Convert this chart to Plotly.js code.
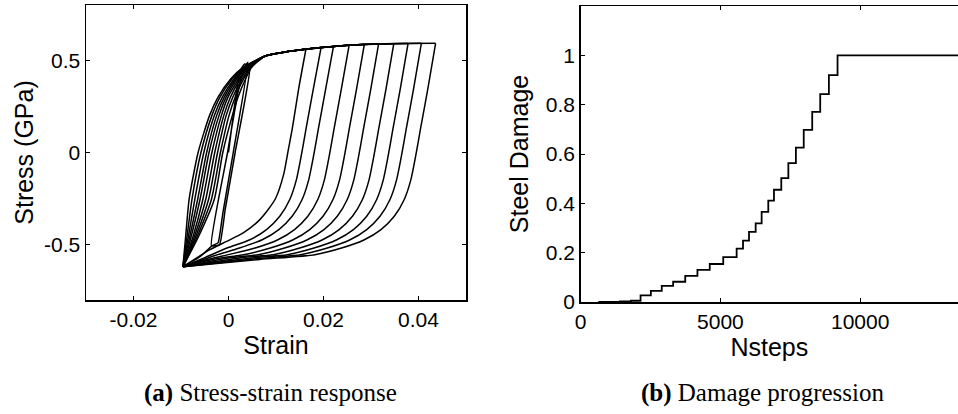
<!DOCTYPE html>
<html><head><meta charset="utf-8">
<script src="https://cdn.plot.ly/plotly-3.0.1.min.js"></script>
<style>html,body{margin:0;padding:0;background:#fff;overflow:hidden}#chart{width:958px;height:414px}</style>
</head><body><div id="chart"></div>
<script>
// ---------- Panel (a): stress-strain response ----------
const tipStrain = [0.0163, 0.0195, 0.0221, 0.0254, 0.0286, 0.0316, 0.0348, 0.0378, 0.0406, 0.0436];
const tipStress = [0.560, 0.570, 0.576, 0.582, 0.586, 0.589, 0.590, 0.591, 0.592, 0.592];

// shared upper (tensile) envelope
const envStrain = [0.0077, 0.0119, 0.0161, 0.0196, 0.0253, 0.0309, 0.0370, 0.0436];
const envStress = [0.523, 0.545, 0.560, 0.569, 0.582, 0.589, 0.591, 0.592];

// reloading branches (fan) from the compressive corner
const fanStress = [-0.62, -0.45, -0.255, 0.0, 0.2, 0.3, 0.4, 0.46];
const fanStrain0 = [-0.0096, -0.0090, -0.0083, -0.0064, -0.0040, -0.0022, 0.0005, 0.0030];
const fanStrain1 = [-0.0096, -0.0087, -0.0077, -0.0058, -0.0035, -0.0018, 0.0008, 0.0032];
const fanStrain2 = [-0.0096, -0.0084, -0.0071, -0.0052, -0.0030, -0.0013, 0.0012, 0.0034];
const fanStrain3 = [-0.0096, -0.0081, -0.0065, -0.0046, -0.0025, -0.0009, 0.0015, 0.0036];
const fanStrain4 = [-0.0096, -0.0078, -0.0060, -0.0041, -0.0020, -0.0005, 0.0018, 0.0038];
const fanStrain5 = [-0.0096, -0.0074, -0.0054, -0.0035, -0.0015, -0.0001, 0.0022, 0.0040];
const fanStrain6 = [-0.0096, -0.0071, -0.0048, -0.0029, -0.0010, 0.0004, 0.0025, 0.0042];
const fanStrain7 = [-0.0096, -0.0068, -0.0042, -0.0023, -0.0005, 0.0009, 0.0029, 0.0044];
const fanStrain8 = [-0.0096, -0.0065, -0.0036, -0.0017, 0.0001, 0.0014, 0.0032, 0.0046];
const fanStrain9 = [-0.0096, -0.0062, -0.0030, -0.0012, 0.0008, 0.0020, 0.0036, 0.0048];

// unloading branches from each tip back to the compressive corner
const unStrain0 = [0.0163, 0.0148, 0.0134, 0.0126, 0.0116, 0.0098, 0.0066, 0.0031, -0.0004, -0.0039, -0.0096];
const unStress0 = [0.560, 0.350, 0.125, 0.016, -0.120, -0.255, -0.364, -0.436, -0.482, -0.527, -0.620];
const unStrain1 = [0.0195, 0.0179, 0.0163, 0.0153, 0.0143, 0.0129, 0.0108, 0.0080, 0.0045, -0.0003, -0.0050, -0.0096];
const unStress1 = [0.570, 0.350, 0.125, -0.020, -0.147, -0.255, -0.346, -0.418, -0.473, -0.518, -0.570, -0.620];
const unStrain2 = [0.0221, 0.0205, 0.0189, 0.0179, 0.0169, 0.0155, 0.0134, 0.0106, 0.0071, 0.0023, -0.0030, -0.0096];
const unStress2 = [0.576, 0.350, 0.125, -0.020, -0.147, -0.255, -0.346, -0.418, -0.473, -0.518, -0.560, -0.620];
const unStrain3 = [0.0254, 0.0238, 0.0222, 0.0212, 0.0202, 0.0188, 0.0167, 0.0139, 0.0104, 0.0056, 0.0000, -0.0050, -0.0096];
const unStress3 = [0.582, 0.350, 0.125, -0.020, -0.147, -0.255, -0.346, -0.418, -0.473, -0.518, -0.554, -0.585, -0.620];
const unStrain4 = [0.0286, 0.0270, 0.0254, 0.0244, 0.0234, 0.0220, 0.0199, 0.0171, 0.0136, 0.0088, 0.0032, -0.0030, -0.0096];
const unStress4 = [0.586, 0.350, 0.125, -0.020, -0.147, -0.255, -0.346, -0.418, -0.473, -0.518, -0.554, -0.578, -0.620];
const unStrain5 = [0.0316, 0.0300, 0.0284, 0.0274, 0.0264, 0.0250, 0.0229, 0.0201, 0.0166, 0.0118, 0.0062, 0.0000, -0.0096];
const unStress5 = [0.589, 0.350, 0.125, -0.020, -0.147, -0.255, -0.346, -0.418, -0.473, -0.518, -0.554, -0.572, -0.620];
const unStrain6 = [0.0348, 0.0332, 0.0316, 0.0306, 0.0296, 0.0282, 0.0261, 0.0233, 0.0198, 0.0150, 0.0094, 0.0030, -0.0096];
const unStress6 = [0.590, 0.350, 0.125, -0.020, -0.147, -0.255, -0.346, -0.418, -0.473, -0.518, -0.554, -0.570, -0.620];
const unStrain7 = [0.0378, 0.0362, 0.0346, 0.0336, 0.0326, 0.0312, 0.0291, 0.0263, 0.0228, 0.0180, 0.0124, 0.0050, -0.0096];
const unStress7 = [0.591, 0.350, 0.125, -0.020, -0.147, -0.255, -0.346, -0.418, -0.473, -0.518, -0.554, -0.572, -0.620];
const unStrain8 = [0.0406, 0.0390, 0.0374, 0.0364, 0.0354, 0.0340, 0.0319, 0.0291, 0.0256, 0.0208, 0.0152, 0.0060, -0.0096];
const unStress8 = [0.592, 0.350, 0.125, -0.020, -0.147, -0.255, -0.346, -0.418, -0.473, -0.518, -0.554, -0.576, -0.620];
const unStrain9 = [0.0436, 0.0420, 0.0404, 0.0394, 0.0384, 0.0370, 0.0349, 0.0321, 0.0286, 0.0238, 0.0182, 0.0066, -0.0096];
const unStress9 = [0.592, 0.350, 0.125, -0.020, -0.147, -0.255, -0.346, -0.418, -0.473, -0.518, -0.554, -0.580, -0.620];

// initial small-amplitude cycles
const innerStrain = [0.0000, 0.0024, 0.0034, 0.0045, 0.0014, -0.0007, -0.0019, -0.0036, -0.0002, 0.0018, 0.0030, 0.0041, 0.0010, -0.0012, -0.0022, -0.0034, -0.0060, -0.0096];
const innerStress = [0.000, 0.440, 0.480, 0.470, 0.000, -0.310, -0.500, -0.505, 0.000, 0.300, 0.440, 0.490, 0.000, -0.330, -0.490, -0.505, -0.565, -0.620];

const strainTicks = [-0.02, 0, 0.02, 0.04];
const strainTickText = ['-0.02', '0', '0.02', '0.04'];
const stressTicks = [-0.5, 0, 0.5];
const stressTickText = ['-0.5', '0', '0.5'];

// ---------- Panel (b): damage progression ----------
const nsteps = [630, 1404, 1800, 2142, 2510, 2900, 3308, 3740, 4177, 4617, 5100, 5580, 5808, 6022, 6260, 6474, 6712, 6915, 7177, 7430, 7700, 7980, 8284, 8570, 8880, 9190, 13600];
const damage = [0.000, 0.002, 0.005, 0.027, 0.045, 0.065, 0.082, 0.106, 0.130, 0.154, 0.182, 0.216, 0.249, 0.284, 0.319, 0.365, 0.411, 0.455, 0.502, 0.563, 0.626, 0.698, 0.771, 0.843, 0.920, 1.000, 1.000];
const nTicks = [0, 5000, 10000];
const nTickText = ['0', '5000', '10000'];
const dTicks = [0, 0.2, 0.4, 0.6, 0.8, 1];
const dTickText = ['0', '0.2', '0.4', '0.6', '0.8', '1'];

// ---------- build ----------
const fans = [fanStrain0, fanStrain1, fanStrain2, fanStrain3, fanStrain4, fanStrain5, fanStrain6, fanStrain7, fanStrain8, fanStrain9];
const unS = [unStrain0, unStrain1, unStrain2, unStrain3, unStrain4, unStrain5, unStrain6, unStrain7, unStrain8, unStrain9];
const unT = [unStress0, unStress1, unStress2, unStress3, unStress4, unStress5, unStress6, unStress7, unStress8, unStress9];

const lineStyle = {color: '#000', width: 1.5, shape: 'spline', smoothing: 0.6};
const traces = [];
traces.push({x: innerStrain, y: innerStress, xaxis: 'x', yaxis: 'y', mode: 'lines',
  line: {color: '#000', width: 1.5, shape: 'spline', smoothing: 0.4}, hoverinfo: 'skip', showlegend: false});
for (let k = 0; k < tipStrain.length; k++) {
  const fx = fans[k].slice(), fy = fanStress.slice();
  for (let i = 0; i < envStrain.length; i++) {
    if (envStrain[i] < tipStrain[k] - 0.001) { fx.push(envStrain[i]); fy.push(envStress[i]); }
  }
  fx.push(tipStrain[k]); fy.push(tipStress[k]);
  traces.push({x: fx, y: fy, xaxis: 'x', yaxis: 'y', mode: 'lines', line: lineStyle, hoverinfo: 'skip', showlegend: false});
  traces.push({x: unS[k], y: unT[k], xaxis: 'x', yaxis: 'y', mode: 'lines', line: lineStyle, hoverinfo: 'skip', showlegend: false});
}
traces.push({x: nsteps, y: damage, xaxis: 'x2', yaxis: 'y2', mode: 'lines',
  line: {color: '#000', width: 1.8, shape: 'hv'}, hoverinfo: 'skip', showlegend: false});

const W = 958, H = 414;
const tickFont = {family: 'Liberation Sans, Arial, sans-serif', size: 21, color: '#000'};
const titleFont = {family: 'Liberation Sans, Arial, sans-serif', size: 25, color: '#000'};
const axBase = {showline: true, linecolor: '#000', linewidth: 1.5, ticks: 'inside', ticklen: 4, tickcolor: '#000',
  tickwidth: 1, showgrid: false, zeroline: false, tickfont: tickFont, tickmode: 'array', fixedrange: true};

const layout = {
  width: W, height: H,
  margin: {l: 0, r: 0, t: 0, b: 0},
  paper_bgcolor: '#fff', plot_bgcolor: '#fff',
  showlegend: false,
  xaxis: Object.assign({}, axBase, {domain: [86 / W, 466 / W], range: [-0.03, 0.05], anchor: 'y', mirror: 'ticks',
    tickvals: strainTicks, ticktext: strainTickText, title: {text: 'Strain', font: titleFont, standoff: 2}}),
  yaxis: Object.assign({}, axBase, {domain: [1 - 300 / H, 1 - 5 / H], range: [-0.8, 0.8], anchor: 'x', mirror: 'ticks',
    tickvals: stressTicks, ticktext: stressTickText, title: {text: 'Stress (GPa)', font: titleFont, standoff: 3}}),
  xaxis2: Object.assign({}, axBase, {domain: [580.7 / W, 1], range: [0, 13500], anchor: 'y2', mirror: 'ticks',
    tickvals: nTicks, ticktext: nTickText, title: {text: 'Nsteps', font: titleFont, standoff: 4}}),
  yaxis2: Object.assign({}, axBase, {domain: [1 - 302 / H, 1 - 6 / H], range: [0, 1.2], anchor: 'x2', mirror: false,
    tickvals: dTicks, ticktext: dTickText, title: {text: 'Steel Damage', font: titleFont, standoff: 10}}),
  annotations: [
    {text: '<b>(a)</b> Stress-strain response', xref: 'paper', yref: 'paper', x: 270 / W, y: 1 - 393 / H,
      xanchor: 'center', yanchor: 'middle', showarrow: false,
      font: {family: 'Liberation Serif, Times New Roman, serif', size: 25, color: '#000'}},
    {text: '<b>(b)</b> Damage progression', xref: 'paper', yref: 'paper', x: 762.5 / W, y: 1 - 393 / H,
      xanchor: 'center', yanchor: 'middle', showarrow: false,
      font: {family: 'Liberation Serif, Times New Roman, serif', size: 25, color: '#000'}}
  ]
};

Plotly.newPlot('chart', traces, layout, {staticPlot: true, displayModeBar: false});
</script></body></html>
